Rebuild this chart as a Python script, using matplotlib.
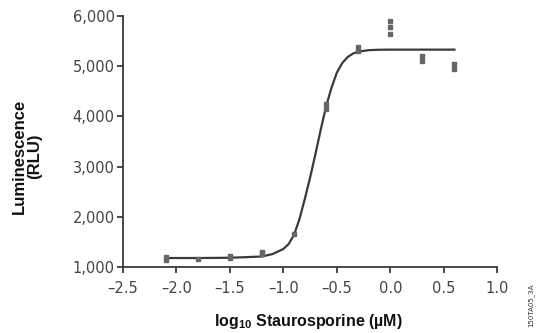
import matplotlib
matplotlib.use("Agg")
import matplotlib.pyplot as plt
from matplotlib.ticker import FuncFormatter

# replicate readings (log10 uM, RLU)
log_conc = [-2.1, -2.1, -1.8, -1.5, -1.5, -1.2, -1.2, -0.9, -0.6, -0.6,
            -0.3, -0.3, 0.0, 0.0, 0.0, 0.3, 0.3, 0.6, 0.6]
lum = [1150, 1200, 1160, 1190, 1220, 1270, 1300, 1650, 4150, 4250,
       5300, 5380, 5650, 5780, 5900, 5100, 5200, 4950, 5050]

# fitted curve
curve_x = [-2.1, -1.8, -1.5, -1.2, -1.1, -1.0, -0.95, -0.9, -0.85, -0.8, -0.75, -0.7,
           -0.65, -0.6, -0.55, -0.5, -0.45, -0.4, -0.35, -0.3, -0.2, -0.1, 0.0, 0.3, 0.6]
curve_y = [1180, 1180, 1185, 1210, 1260, 1360, 1460, 1640, 1950, 2350, 2780, 3250,
           3740, 4200, 4570, 4870, 5060, 5180, 5250, 5290, 5320, 5328, 5330, 5330, 5330]

x_ticks = [-2.5, -2.0, -1.5, -1.0, -0.5, 0.0, 0.5, 1.0]
y_ticks = [1000, 2000, 3000, 4000, 5000, 6000]

plt.rcParams["mathtext.fontset"] = "custom"
plt.rcParams["mathtext.rm"] = "Liberation Sans:bold"
plt.rcParams["mathtext.bf"] = "Liberation Sans:bold"

fig = plt.figure(figsize=(5.44, 3.33), dpi=100)
ax = fig.add_axes([0.226, 0.198, 0.688, 0.754])

grey = "#3a3a3a"
ax.plot(curve_x, curve_y, color=grey, lw=1.6, zorder=3)
ax.plot(log_conc, lum, ls="none", marker="s", ms=2.3, color="#666666", zorder=4)

ax.set_xlim(-2.5, 1.0)
ax.set_ylim(1000, 6000)
ax.set_xticks(x_ticks)
ax.set_yticks(y_ticks)
ax.yaxis.set_major_formatter(FuncFormatter(lambda v, p: f"{int(v):,}"))
ax.xaxis.set_major_formatter(FuncFormatter(lambda v, p: f"{v:.1f}".replace("-", "\u2013")))

for s in ["top", "right"]:
    ax.spines[s].set_visible(False)
for s in ["left", "bottom"]:
    ax.spines[s].set_color(grey)
    ax.spines[s].set_linewidth(1.3)

ax.tick_params(axis="both", colors=grey, labelcolor="#444444", labelsize=10.5, width=1.3, length=4)
ax.tick_params(axis="x", pad=6)
ax.tick_params(axis="y", pad=2)
for lab in ax.get_xticklabels() + ax.get_yticklabels():
    lab.set_family("DejaVu Sans")

ax.set_ylabel("Luminescence\n(RLU)", family="Liberation Sans",
              fontweight="bold", fontsize=12, linespacing=1.05, color="#111111")
ax.yaxis.set_label_coords(-0.215, 0.44)
ax.set_xlabel("log$_{10}$ Staurosporine (\u00b5M)", family="Liberation Sans",
              fontweight="bold", fontsize=11.5, color="#111111")
ax.xaxis.set_label_coords(0.495, -0.18)

fig.text(0.975, 0.084, "150TA05_3A", rotation=90, fontsize=5, ha="center", va="center", color="#333333")

fig.savefig("out.png", dpi=100)
